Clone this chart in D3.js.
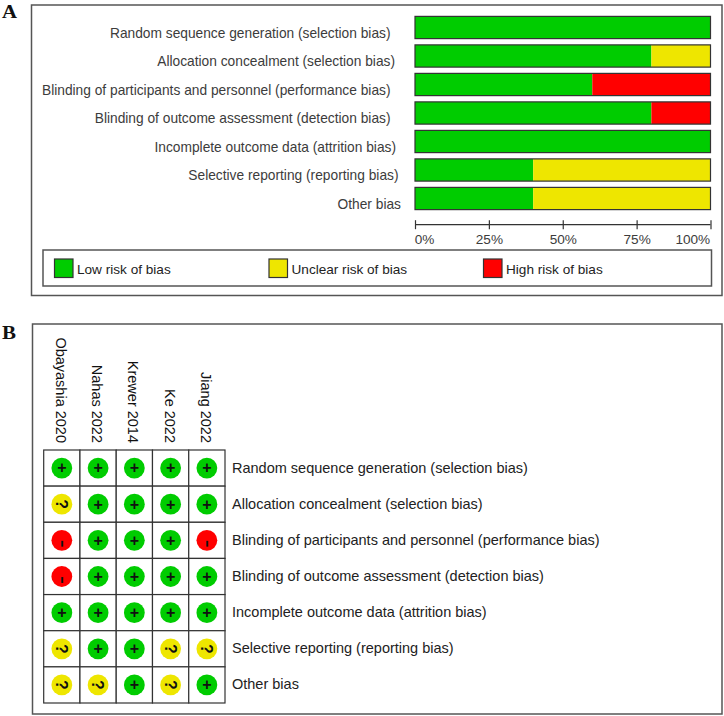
<!DOCTYPE html>
<html><head><meta charset="utf-8">
<script src="https://cdn.jsdelivr.net/npm/d3@7/dist/d3.min.js"></script>
<style>
html,body{margin:0;padding:0;background:#fff}
svg{display:block}
text{font-family:"Liberation Sans",Arial,sans-serif}
</style></head><body>
<svg id="c" width="724" height="716"></svg>
<script>
const domains = ["Random sequence generation (selection bias)","Allocation concealment (selection bias)","Blinding of participants and personnel (performance bias)","Blinding of outcome assessment (detection bias)","Incomplete outcome data (attrition bias)","Selective reporting (reporting bias)","Other bias"];
const lowRisk     = [100,80,60,80,100,40,40];
const unclearRisk = [0,20,0,0,0,60,60];
const highRisk    = [0,0,40,20,0,0,0];
const riskKeys = ["low","unclear","high"];
const riskNames = ["Low risk of bias","Unclear risk of bias","High risk of bias"];
const riskColors = ["#00cc00","#eee600","#ff0000"];
const axisTicks = [0,25,50,75,100];
const studies = ["Obayashia 2020","Nahas 2022","Krewer 2014","Ke 2022","Jiang 2022"];
const judgements = [
  ["+","+","+","+","+"],
  ["?","+","+","+","+"],
  ["-","+","+","+","-"],
  ["-","+","+","+","+"],
  ["+","+","+","+","+"],
  ["?","+","+","?","?"],
  ["?","?","+","?","+"]
];
// per-label nudges seen in the reference's hand-placed labels
const labelNudge = [-10.5,-6,-10.5,-10.5,-5,-2.5,0];

const svg = d3.select("#c");
const ink = "#3c3c3c";
const frame = (x,y,w,h,sw=1.5)=>svg.append("rect").attr("x",x).attr("y",y).attr("width",w).attr("height",h).attr("fill","#fff").attr("stroke","#555").attr("stroke-width",sw);
const panelLetter = (t,yy,len)=>svg.append("text").attr("x",2).attr("y",yy).attr("font-size",19.5).attr("font-weight","bold").attr("textLength",len).attr("lengthAdjust","spacingAndGlyphs").style("font-family","'Liberation Serif',serif").attr("fill","#111").text(t);
panelLetter("A",17.5,15);
panelLetter("B",339,14);

// Panel A
frame(31.5,5,690.5,290.5);
const x = d3.scaleLinear().domain([0,100]).range([415,710.5]);
const y = d3.scaleBand().domain(domains).range([13.25,212.75]).paddingInner(0.22).paddingOuter(0.11);
const rows = domains.map((d,i)=>({domain:d,low:lowRisk[i],unclear:unclearRisk[i],high:highRisk[i]}));
const stack = d3.stack().keys(riskKeys)(rows);
const color = d3.scaleOrdinal(riskKeys,riskColors);
svg.append("g").selectAll("g").data(stack).join("g").attr("fill",s=>color(s.key))
  .selectAll("rect").data(s=>s.filter(d=>d[1]>d[0])).join("rect")
  .attr("x",d=>x(d[0])).attr("width",d=>x(d[1])-x(d[0]))
  .attr("y",d=>y(d.data.domain)).attr("height",y.bandwidth());
svg.append("g").selectAll("rect").data(domains).join("rect")
  .attr("x",x(0)).attr("width",x(100)-x(0)).attr("y",d=>y(d)).attr("height",y.bandwidth())
  .attr("fill","none").attr("stroke","#333").attr("stroke-width",1.2);
svg.append("g").selectAll("text").data(domains).join("text")
  .attr("x",(d,i)=>401+labelNudge[i]).attr("y",d=>y(d)+y.bandwidth()/2+10)
  .attr("text-anchor","end").attr("font-size",13.75).attr("fill",ink).text(d=>d);

const axis = d3.axisBottom(x).tickValues(axisTicks).tickFormat(d=>d+"%").tickSize(4.5).tickSizeOuter(0);
const ax = svg.append("g").attr("transform","translate(0,224.7)").call(axis);
ax.select(".domain").attr("stroke","#333").attr("stroke-width",1.2).attr("d",`M${x(0)},0H${x(100)}`);
ax.selectAll(".tick line").attr("y1",-4.5).attr("y2",4.5).attr("stroke","#333").attr("stroke-width",1.2);
ax.selectAll(".tick text").attr("y",19).attr("dy",0).attr("font-size",13.6).attr("fill",ink)
  .style("font-family",'"Liberation Sans",Arial,sans-serif')
  .attr("dx",d=>d===0?-0.8:d===100?-0.8:0)
  .attr("text-anchor",d=>d===0?"start":d===100?"end":"middle");

frame(43,250,668.5,36);
const legendX = d3.scalePoint().domain(riskKeys).range([54.5,483.5]);
const lg = svg.append("g").selectAll("g").data(riskKeys).join("g").attr("transform",k=>`translate(${legendX(k)},259)`);
lg.append("rect").attr("width",18.5).attr("height",18.5).attr("fill",k=>color(k)).attr("stroke","#333").attr("stroke-width",1.2);
lg.append("text").attr("x",22.5).attr("y",15).attr("font-size",13.6).attr("fill","#222").text((k,i)=>riskNames[i]);

// Panel B
frame(32.5,324,689.5,390);
const gx = d3.scaleBand().domain(studies).range([43.7,225]);
const gy = d3.scaleBand().domain(domains).range([450,703]);
const grid = svg.append("g");
const cells = domains.flatMap((d,r)=>studies.map((s,c)=>({d,s,v:judgements[r][c]})));
grid.selectAll("rect").data(cells).join("rect")
  .attr("x",d=>gx(d.s)).attr("y",d=>gy(d.d)).attr("width",gx.bandwidth()).attr("height",gy.bandwidth())
  .attr("fill","#fff").attr("stroke","#333").attr("stroke-width",1.2);
const jColor = {"+":riskColors[0],"?":riskColors[1],"-":riskColors[2]};
const marks = svg.append("g").selectAll("g").data(cells).join("g")
  .attr("transform",d=>`translate(${gx(d.s)+gx.bandwidth()/2},${gy(d.d)+gy.bandwidth()/2})`);
marks.append("circle").attr("r",10.4).attr("fill",d=>jColor[d.v]);
marks.append("text").attr("text-anchor","middle").attr("fill","#111")
  .attr("font-weight",d=>d.v==="-"?"normal":"bold")
  .attr("font-size",d=>d.v==="+"?16:d.v==="?"?16:24)
  .attr("transform",d=>d.v==="+"?"translate(0,5.4)":d.v==="?"?"rotate(90) translate(0,5.76)":"rotate(90) translate(3.5,5.5)")
  .text(d=>d.v);
svg.append("g").selectAll("text").data(studies).join("text")
  .attr("transform",d=>`translate(${gx(d)+gx.bandwidth()/2-6},443) rotate(90)`)
  .attr("text-anchor","end").attr("font-size",14.5).attr("fill","#111").text(d=>d);
svg.append("g").selectAll("text").data(domains).join("text")
  .attr("x",232).attr("y",d=>gy(d)+gy.bandwidth()/2+4.5)
  .attr("font-size",14.5).attr("fill","#222").text(d=>d);
</script>
</body></html>
